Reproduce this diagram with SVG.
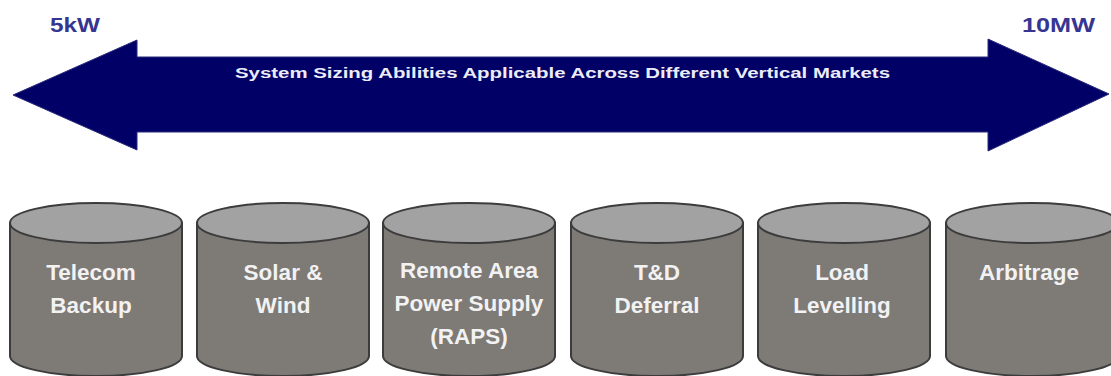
<svg xmlns="http://www.w3.org/2000/svg" width="1111" height="376" viewBox="0 0 1111 376">
  <style>
    .lbl { font-family: "Liberation Sans", Arial, sans-serif; font-weight: bold; }
    .end { fill: #363692; font-size: 21px; }
    .banner { fill: #ececf8; font-size: 14px; }
    .cyl-body { fill: #7e7a76; stroke: #3c3c3c; stroke-width: 2; }
    .cyl-top { fill: #a2a2a2; stroke: #3c3c3c; stroke-width: 2; }
    .ct { fill: #f2f2f2; font-size: 22.5px; text-anchor: middle; }
  </style>
  <defs>
    <g id="cyl">
      <path class="cyl-body" d="M-86,0 L-86,133 A86,20 0 0 0 86,133 L86,0 Z"/>
      <ellipse class="cyl-top" cx="0" cy="0" rx="86" ry="20"/>
    </g>
  </defs>
  <rect width="1111" height="376" fill="#ffffff"/>

  <g id="scale-arrow">
    <path d="M13,95 L137,40 L137,57 L988,57 L988,39 L1109,94 L988,151 L988,132 L137,132 L137,150 Z" fill="#000066" stroke="#2a2a7a" stroke-width="1"/>
    <text class="lbl banner" x="235" y="78" textLength="655" lengthAdjust="spacingAndGlyphs">System Sizing Abilities Applicable Across Different Vertical Markets</text>
  </g>
  <g id="label-5kw"><text class="lbl end" x="50" y="32" textLength="50" lengthAdjust="spacingAndGlyphs">5kW</text></g>
  <g id="label-10mw"><text class="lbl end" x="1022" y="32" textLength="73" lengthAdjust="spacingAndGlyphs">10MW</text></g>

  <g id="telecom">
    <use href="#cyl" x="96" y="223"/>
    <text class="lbl ct" x="91" y="280">Telecom</text>
    <text class="lbl ct" x="91" y="313">Backup</text>
  </g>
  <g id="solar">
    <use href="#cyl" x="283" y="223"/>
    <text class="lbl ct" x="283" y="280">Solar &amp;</text>
    <text class="lbl ct" x="283" y="313">Wind</text>
  </g>
  <g id="raps">
    <use href="#cyl" x="469" y="223"/>
    <text class="lbl ct" x="469" y="278">Remote Area</text>
    <text class="lbl ct" x="469" y="311">Power Supply</text>
    <text class="lbl ct" x="469" y="344">(RAPS)</text>
  </g>
  <g id="td">
    <use href="#cyl" x="657" y="223"/>
    <text class="lbl ct" x="657" y="280">T&amp;D</text>
    <text class="lbl ct" x="657" y="313">Deferral</text>
  </g>
  <g id="load">
    <use href="#cyl" x="844" y="223"/>
    <text class="lbl ct" x="842" y="280">Load</text>
    <text class="lbl ct" x="842" y="313">Levelling</text>
  </g>
  <g id="arbitrage">
    <use href="#cyl" x="1032" y="223"/>
    <text class="lbl ct" x="1029" y="280">Arbitrage</text>
  </g>
</svg>
